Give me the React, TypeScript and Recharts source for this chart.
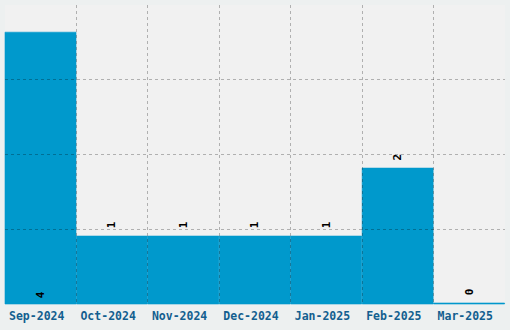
import React from 'react';
import { BarChart, Bar, XAxis, YAxis, CartesianGrid, usePlotArea } from 'recharts';

const months = ['Sep-2024', 'Oct-2024', 'Nov-2024', 'Dec-2024', 'Jan-2025', 'Feb-2025', 'Mar-2025'];
const counts = [4, 1, 1, 1, 1, 2, 0];
const yTicks = [0, 1.1, 2.2, 3.3, 4.4];

const chartData = months.map((month, i) => ({ month, count: counts[i] }));
const maxCount = Math.max(...counts);
const mono = "'DejaVu Sans Mono', 'Liberation Mono', monospace";
const crisp = (v: number) => Math.floor(v) + 0.5;

// dashed grid on category boundaries; drawn from the label layer so it sits over the bars
function GridLines() {
  const area = usePlotArea();
  if (!area) return null;
  const { x, y, width, height } = area;
  const stroke = 'rgba(0,0,0,0.27)';
  return (
    <g>
      {[1, 2, 3].map(k => {
        const gy = crisp(y + (height * k) / 4);
        return <line key={'h' + k} x1={x} x2={x + width} y1={gy} y2={gy} stroke={stroke} strokeDasharray="3 3" />;
      })}
      {[1, 2, 3, 4, 5, 6].map(k => {
        const gx = crisp(x + (width * k) / months.length);
        return <line key={'v' + k} x1={gx} x2={gx} y1={y} y2={y + height} stroke={stroke} strokeDasharray="3 3" />;
      })}
    </g>
  );
}

// value labels sit above each bar; the tallest one goes inside, near its base
function BarLabel(props: any) {
  const { x, y, width, height, value, index } = props;
  const cx = x + width / 2;
  const cy = value === maxCount ? y + height - 9 : y - 11;
  return (
    <g>
      {index === 0 && <GridLines />}
      <text
        x={cx}
        y={cy}
        transform={`rotate(-90 ${cx} ${cy})`}
        textAnchor="middle"
        dominantBaseline="central"
        style={{ fontFamily: mono, fontWeight: 'bold', fontSize: 11 }}
        fill="#000"
      >
        {value}
      </text>
    </g>
  );
}

export default function App() {
  return (
    <div style={{ position: 'absolute', left: 0, top: 0, width: 510, height: 330, background: '#edf0f0' }}>
      <BarChart
        width={510}
        height={330}
        data={chartData}
        margin={{ top: 5, right: 5, bottom: 0, left: 5 }}
        barCategoryGap={0}
      >
        <CartesianGrid fill="#f1f1f1" horizontal={false} vertical={false} />
        <XAxis
          dataKey="month"
          height={26}
          tickLine={false}
          tickSize={6}
          axisLine={false}
          tick={{ fill: '#135f8f', fontSize: 11.5, dx: -4, style: { fontFamily: mono, fontWeight: 'bold' } }}
          interval={0}
        />
        <YAxis hide domain={[0, 4.4]} ticks={yTicks} />
        <Bar
          dataKey="count"
          fill="#0099cc"
          stroke="#0099cc"
          strokeWidth={0.6}
          minPointSize={1}
          isAnimationActive={false}
          label={<BarLabel />}
        />
      </BarChart>
    </div>
  );
}
